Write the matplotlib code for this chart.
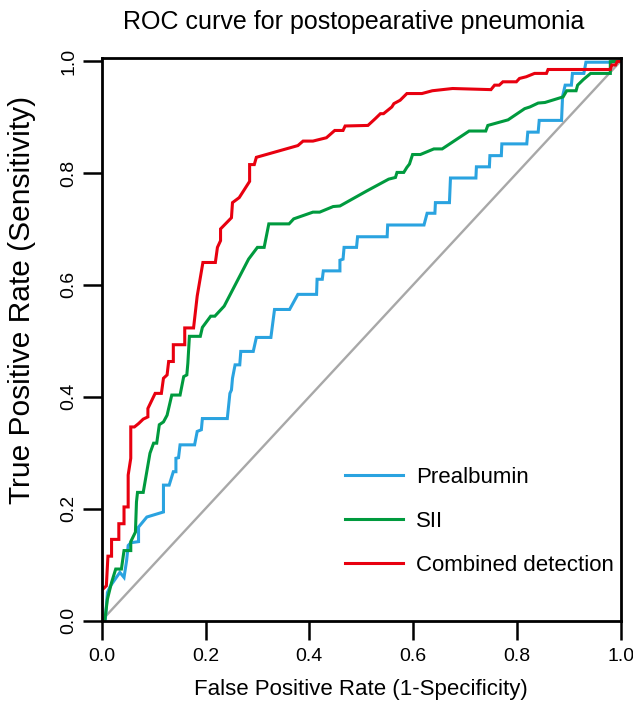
import matplotlib
matplotlib.use("Agg")
import matplotlib.pyplot as plt

plt.rcParams['font.family'] = ['Liberation Sans', 'DejaVu Sans']

title = "ROC curve for postopearative pneumonia"
xlabel = "False Positive Rate (1-Specificity)"
ylabel = "True Positive Rate (Sensitivity)"
series_names = ["Prealbumin", "SII", "Combined detection"]
series_colors = ["#2aa3e0", "#009a3e", "#e8000f"]
ticks = [0.0, 0.2, 0.4, 0.6, 0.8, 1.0]
tick_labels = ["0.0", "0.2", "0.4", "0.6", "0.8", "1.0"]

# Prealbumin
fpr_pre = [0, 0.007, 0.011, 0.017, 0.035,
           0.043, 0.048, 0.051, 0.056, 0.071,
           0.071, 0.087, 0.119, 0.119, 0.130,
           0.138, 0.143, 0.143, 0.148, 0.151,
           0.179, 0.184, 0.192, 0.194, 0.242,
           0.247, 0.250, 0.252, 0.257, 0.266,
           0.268, 0.292, 0.298, 0.326, 0.333,
           0.362, 0.378, 0.414, 0.415, 0.425,
           0.427, 0.459, 0.459, 0.465, 0.467,
           0.491, 0.493, 0.550, 0.551, 0.621,
           0.627, 0.642, 0.643, 0.670, 0.672,
           0.721, 0.722, 0.747, 0.748, 0.770,
           0.771, 0.819, 0.821, 0.841, 0.843,
           0.886, 0.888, 0.893, 0.905, 0.907,
           0.929, 0.933, 0.980, 1.0]
tpr_pre = [0, 0.002, 0.050, 0.062, 0.086,
           0.077, 0.107, 0.134, 0.139, 0.141,
           0.167, 0.185, 0.194, 0.242, 0.242,
           0.266, 0.266, 0.290, 0.291, 0.314,
           0.314, 0.338, 0.341, 0.361, 0.361,
           0.406, 0.412, 0.433, 0.457, 0.457,
           0.481, 0.481, 0.506, 0.506, 0.556,
           0.556, 0.583, 0.583, 0.610, 0.610,
           0.625, 0.625, 0.644, 0.646, 0.667,
           0.667, 0.686, 0.686, 0.707, 0.707,
           0.728, 0.728, 0.747, 0.747, 0.791,
           0.791, 0.811, 0.811, 0.831, 0.831,
           0.852, 0.852, 0.873, 0.873, 0.894,
           0.894, 0.937, 0.957, 0.957, 0.978,
           0.978, 0.998, 0.998, 1.0]

# SII
fpr_sii = [0, 0.006, 0.011, 0.019, 0.027,
           0.038, 0.043, 0.056, 0.056, 0.065,
           0.067, 0.069, 0.080, 0.093, 0.100,
           0.106, 0.111, 0.119, 0.126, 0.135,
           0.151, 0.158, 0.164, 0.166, 0.169,
           0.190, 0.194, 0.210, 0.218, 0.236,
           0.283, 0.300, 0.313, 0.322, 0.361,
           0.370, 0.407, 0.420, 0.446, 0.459,
           0.511, 0.553, 0.566, 0.569, 0.582,
           0.588, 0.593, 0.599, 0.614, 0.640,
           0.656, 0.708, 0.740, 0.744, 0.783,
           0.815, 0.825, 0.841, 0.854, 0.889,
           0.896, 0.914, 0.917, 0.928, 0.942,
           0.980, 0.980, 1.0]
tpr_sii = [0, 0, 0.038, 0.068, 0.092,
           0.092, 0.125, 0.125, 0.141, 0.158,
           0.212, 0.229, 0.229, 0.299, 0.317,
           0.317, 0.350, 0.355, 0.367, 0.403,
           0.403, 0.436, 0.439, 0.460, 0.508,
           0.508, 0.524, 0.544, 0.544, 0.562,
           0.646, 0.667, 0.667, 0.709, 0.709,
           0.718, 0.730, 0.730, 0.740, 0.741,
           0.768, 0.789, 0.792, 0.801, 0.801,
           0.810, 0.816, 0.833, 0.833, 0.843,
           0.843, 0.875, 0.875, 0.885, 0.895,
           0.915, 0.918, 0.925, 0.926, 0.936,
           0.947, 0.947, 0.957, 0.967, 0.978,
           0.978, 0.999, 1.0]

# Combined detection
fpr_comb = [0, 0, 0.009, 0.012, 0.019,
            0.019, 0.033, 0.033, 0.043, 0.043,
            0.051, 0.051, 0.056, 0.056, 0.063,
            0.071, 0.080, 0.089, 0.089, 0.103,
            0.115, 0.119, 0.126, 0.129, 0.138,
            0.138, 0.160, 0.160, 0.177, 0.184,
            0.195, 0.219, 0.223, 0.229, 0.229,
            0.250, 0.252, 0.265, 0.285, 0.285,
            0.294, 0.298, 0.378, 0.388, 0.407,
            0.433, 0.449, 0.465, 0.469, 0.513,
            0.527, 0.537, 0.543, 0.559, 0.563,
            0.575, 0.588, 0.617, 0.637, 0.676,
            0.750, 0.757, 0.766, 0.773, 0.799,
            0.805, 0.818, 0.834, 0.857, 0.860,
            0.980, 0.983, 0.990, 0.993, 1.0]
tpr_comb = [0, 0.054, 0.062, 0.115, 0.115,
            0.145, 0.145, 0.173, 0.173, 0.203,
            0.203, 0.260, 0.290, 0.346, 0.346,
            0.352, 0.360, 0.364, 0.379, 0.406,
            0.406, 0.433, 0.439, 0.463, 0.463,
            0.493, 0.493, 0.523, 0.523, 0.580,
            0.640, 0.640, 0.667, 0.679, 0.700,
            0.720, 0.747, 0.756, 0.785, 0.815,
            0.815, 0.828, 0.849, 0.857, 0.857,
            0.863, 0.876, 0.876, 0.884, 0.885,
            0.897, 0.906, 0.906, 0.918, 0.924,
            0.930, 0.942, 0.942, 0.947, 0.951,
            0.949, 0.957, 0.957, 0.963, 0.963,
            0.969, 0.972, 0.978, 0.978, 0.985,
            0.985, 0.993, 0.993, 0.999, 1.0]

fig = plt.figure(figsize=(6.33, 7.09), dpi=100)
ax = fig.add_axes([101.7 / 633, 1 - 620.5 / 709, 519 / 633, (620.5 - 58.3) / 709])

ax.plot([0, 1], [0, 1], color="#a8a8a8", lw=1.7, zorder=1)
for fx, ty, name, col in zip([fpr_pre, fpr_sii, fpr_comb], [tpr_pre, tpr_sii, tpr_comb],
                             series_names, series_colors):
    ax.plot(fx, ty, color=col, lw=2.2, label=name, solid_joinstyle="miter", zorder=2)

ax.set_xlim(0, 1)
ax.set_ylim(0, 1.005)
ax.set_xticks(ticks)
ax.set_xticklabels(tick_labels)
ax.set_yticks(ticks)
ax.set_yticklabels(tick_labels, rotation=90, va="center")
ax.tick_params(axis="both", direction="out", length=13.5, width=1.8, labelsize=14)
ax.tick_params(axis="x", pad=6)
ax.tick_params(axis="y", pad=4)
for s in ax.spines.values():
    s.set_linewidth(2.0)

ax.set_xlabel(xlabel, fontsize=16)
ax.xaxis.set_label_coords(0.5, (620.5 - 690) / 562.2)
ax.xaxis.label.set_va("center")
ax.set_ylabel(ylabel, fontsize=21.5)
ax.yaxis.set_label_coords((22 - 101.7) / 519, (620.5 - 300) / 562.2)
ax.yaxis.label.set_va("center")

fig.text(353.5 / 633, 1 - 22 / 709, title, fontsize=18, ha="center", va="center")

leg = ax.legend(loc="upper left", bbox_to_anchor=((345 - 101.7) / 519, (620.5 - 467) / 562.2),
                frameon=False, fontsize=16, handlelength=2.6, handletextpad=0.6,
                labelspacing=1.03, borderpad=0, borderaxespad=0)
for line in leg.get_lines():
    line.set_linewidth(2.2)

fig.savefig("out.png", dpi=100)
